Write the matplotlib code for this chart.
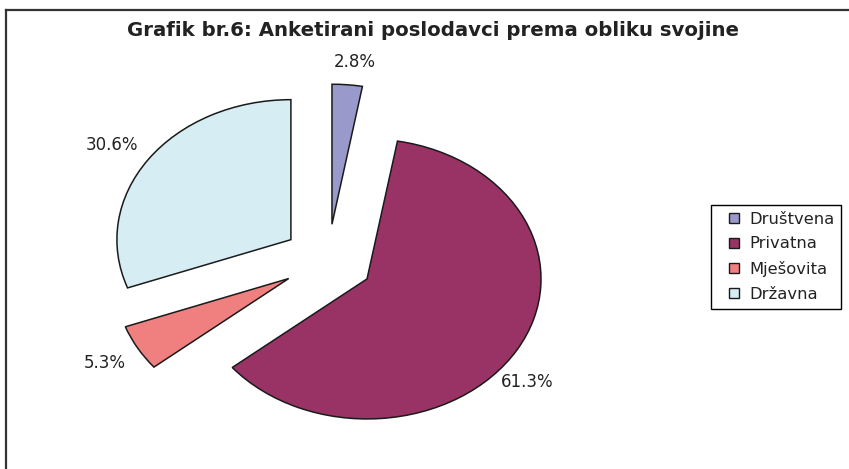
import matplotlib
matplotlib.use('Agg')
import matplotlib.pyplot as plt
from matplotlib.lines import Line2D

# podaci
kategorije = ["Društvena", "Privatna", "Mješovita", "Državna"]
udjeli = [2.8, 61.3, 5.3, 30.6]
boje = ["#9999CC", "#993366", "#F08080", "#D5EDF3"]
naslov = "Grafik br.6: Anketirani poslodavci prema obliku svojine"

W, H = 849, 469
fig = plt.figure(figsize=(W / 100, H / 100), dpi=100)
ax = fig.add_axes([0, 0, 1, 1])

wedges, texts, pcts = ax.pie(
    udjeli, colors=boje, startangle=90, counterclock=False,
    explode=[0.26] * 4, autopct="%1.1f%%", pctdistance=1.2,
    wedgeprops=dict(edgecolor="#1a1a1a", linewidth=1.1),
    textprops=dict(fontsize=12, color="#222222", family="DejaVu Sans"),
)
# polozaji natpisa kao u originalu (Excel ih stavlja malo drugacije)
polozaji = [(0.155, 1.418), (1.144, -0.868), (-1.282, -0.732), (-1.241, 0.825)]
for t, p in zip(pcts, polozaji):
    t.set_position(p)

# eliptican prikaz: centar pite (328, 260) px, rx=174, ry=140
cx, cy, rx, ry = 328, 260.5, 174, 140
ax.set_aspect("auto")
ax.set_xlim(-cx / rx, (W - cx) / rx)
ax.set_ylim(-(H - cy) / ry, cy / ry)
ax.axis("off")

fig.text(433 / W, 1 - 30 / H, naslov, ha="center", va="center",
         fontsize=14.2, fontweight="bold", color="#222222", family="DejaVu Sans")

handles = [Line2D([], [], linestyle="", marker="s", markersize=6.5,
                  markerfacecolor=c, markeredgecolor="#1a1a1a", markeredgewidth=1)
           for c in boje]
leg = fig.legend(handles, kategorije, loc="upper left",
                 bbox_to_anchor=(711 / W, 1 - 205 / H), borderaxespad=0,
                 fancybox=False, edgecolor="black", framealpha=1,
                 handlelength=1.95, handletextpad=0.0, numpoints=1,
                 labelspacing=0.6, borderpad=0.4,
                 prop=dict(family="DejaVu Sans", size=11.8))
leg.get_frame().set_linewidth(1)
for t in leg.get_texts():
    t.set_color("#222222")

# okvir (gornja i lijeva linija)
fig.add_artist(Line2D([6 / W, 1], [1 - 10 / H, 1 - 10 / H], color="#333333", lw=1.6))
fig.add_artist(Line2D([6 / W, 6 / W], [0, 1 - 10 / H], color="#333333", lw=1.6))

fig.savefig("out.png", dpi=100)
